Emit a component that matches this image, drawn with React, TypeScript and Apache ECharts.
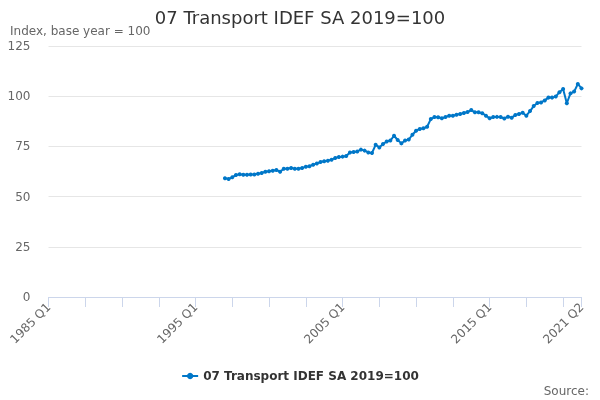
import React, { useEffect, useRef } from "react";
import * as echarts from "echarts";

const startYear = 1985;
const endYear = 2021;
const endQuarter = 2;
const categories: string[] = [];
for (let y = startYear; y <= endYear; y++) {
  for (let q = 1; q <= 4; q++) {
    if (y === endYear && q > endQuarter) break;
    categories.push(`${y} Q${q}`);
  }
}

// First observation: 1997 Q1
const firstCategory = "1997 Q1";

// Quarterly index values from 1997 Q1 to 2021 Q2
const values: number[] = [
  59.1, 58.8, 59.6, 60.8, // 1997
  61.1, 60.9, 60.9, 61.0, // 1998
  61.0, 61.4, 61.8, 62.4, // 1999
  62.6, 62.9, 63.2, 62.4, // 2000
  63.9, 63.9, 64.2, 63.9, // 2001
  63.9, 64.2, 64.9, 65.1, // 2002
  65.9, 66.5, 67.2, 67.6, // 2003
  67.9, 68.4, 69.2, 69.7, // 2004
  69.9, 70.2, 72.0, 72.2, // 2005
  72.5, 73.4, 72.9, 72.0, // 2006
  71.7, 75.8, 74.5, 76.2, // 2007
  77.4, 77.9, 80.3, 78.2, // 2008
  76.5, 77.9, 78.4, 80.8, // 2009
  82.8, 83.7, 84.0, 84.8, // 2010
  88.6, 89.6, 89.5, 89.0, // 2011
  89.6, 90.3, 90.3, 90.8, // 2012
  91.1, 91.6, 92.1, 93.1, // 2013
  92.0, 92.0, 91.5, 90.3, // 2014
  89.0, 89.6, 89.7, 89.6, // 2015
  88.9, 89.8, 89.3, 90.6, // 2016
  91.1, 91.8, 90.3, 92.6, // 2017
  95.1, 96.6, 96.9, 97.9, // 2018
  99.3, 99.3, 99.8, 102.0, // 2019
  103.6, 96.5, 101.4, 102.3, // 2020
  106.1, 103.9, // 2021
];

const yTicks = { min: 0, max: 125, interval: 25 };
const labelEvery = 40;
const tickEvery = 10;

const seriesName = "07 Transport IDEF SA 2019=100";
const titleText = "07 Transport IDEF SA 2019=100";
const subtitleText = "Index, base year = 100";
const sourceText = "Source:";

export default function App() {
  const ref = useRef<HTMLDivElement>(null);
  useEffect(() => {
    if (!ref.current) return;
    const chart = echarts.init(ref.current, undefined, { renderer: "svg" });
    const offset = categories.indexOf(firstCategory);
    const data: (number | null)[] = categories.map((_, i) =>
      i < offset ? null : values[i - offset] ?? null
    );
    const last = categories.length - 1;
    const font = "DejaVu Sans";
    chart.setOption({
      animation: false,
      textStyle: { fontFamily: font },
      title: [
        {
          text: titleText,
          left: "center",
          top: 3,
          textStyle: { fontFamily: font, fontSize: 18, fontWeight: "normal", color: "#333333" },
        },
        {
          text: subtitleText,
          left: 5,
          top: 20,
          textStyle: { fontFamily: font, fontSize: 12, fontWeight: "normal", color: "#666666" },
        },
      ],
      graphic: [
        {
          type: "text",
          right: 11,
          bottom: 3,
          style: { text: sourceText, font: `12px '${font}'`, fill: "#666666" },
        },
      ],
      legend: {
        top: 365,
        left: "center",
        itemWidth: 16,
        itemHeight: 8,
        itemGap: 20,
        textStyle: { fontFamily: font, fontSize: 12, fontWeight: "bold", color: "#333333" },
        data: [seriesName],
      },
      grid: { left: 48.5, right: 18.5, top: 46, bottom: 103, containLabel: false },
      xAxis: {
        type: "category",
        data: categories,
        boundaryGap: false,
        axisLine: { show: true, lineStyle: { color: "#ccd6eb", width: 1 } },
        axisTick: {
          show: true,
          length: 10,
          interval: (i: number) => i % tickEvery === 0 || i === last,
          lineStyle: { color: "#ccd6eb" },
        },
        axisLabel: {
          interval: (i: number) => i % labelEvery === 0 || i === last,
          rotate: 45,
          margin: 8,
          color: "#666666",
          fontSize: 12,
          fontFamily: font,
        },
        splitLine: { show: false },
      },
      yAxis: {
        type: "value",
        min: yTicks.min,
        max: yTicks.max,
        interval: yTicks.interval,
        axisLine: { show: false },
        axisTick: { show: false },
        axisLabel: { color: "#666666", fontSize: 12, fontFamily: font, margin: 18 },
        splitLine: { lineStyle: { color: "#e6e6e6", width: 1 } },
      },
      series: [
        {
          name: seriesName,
          type: "line",
          data,
          connectNulls: false,
          symbol: "circle",
          symbolSize: 4,
          showSymbol: true,
          showAllSymbol: true,
          lineStyle: { color: "#0077c8", width: 2 },
          itemStyle: { color: "#0077c8" },
        },
      ],
    });
    return () => chart.dispose();
  }, []);
  return (
    <div
      ref={ref}
      style={{ position: "fixed", left: 0, top: 0, width: 600, height: 400 }}
    />
  );
}
